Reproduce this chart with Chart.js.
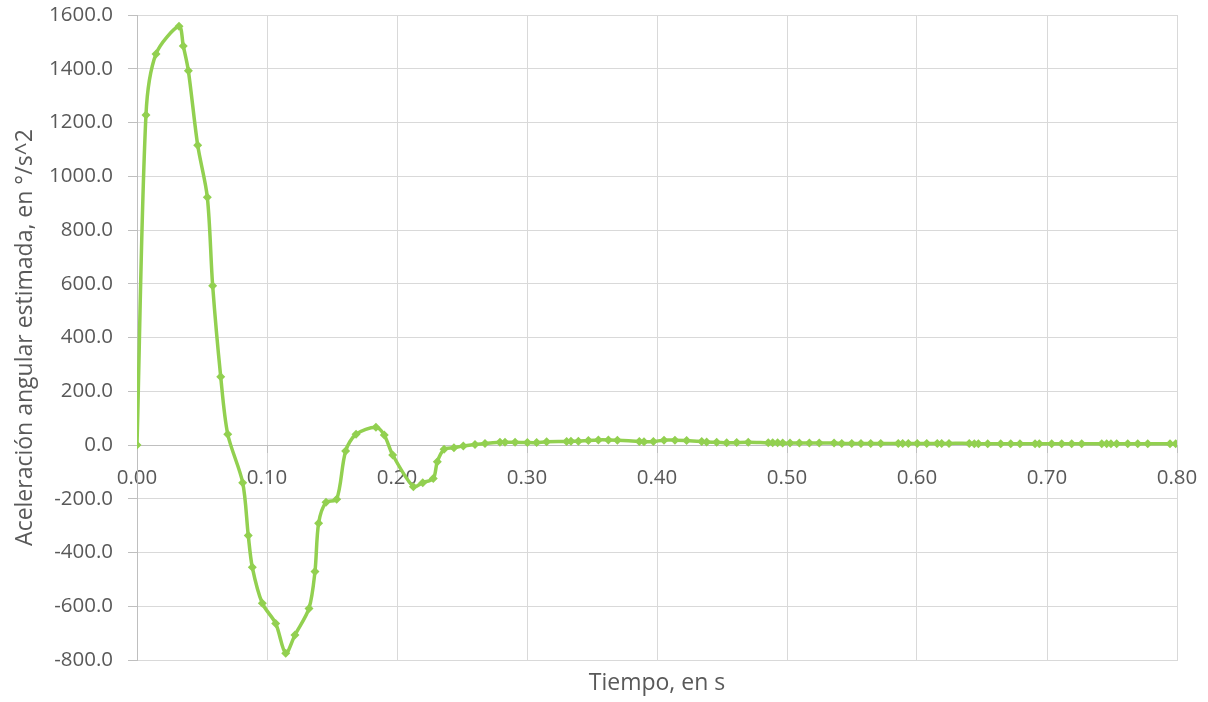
<!DOCTYPE html>
<html>
<head>
<meta charset="utf-8">
<script src="https://cdn.jsdelivr.net/npm/chart.js@4/dist/chart.umd.min.js"></script>
<style>
html,body{margin:0;padding:0;background:#fff;}
#wrap{width:1208px;height:702px;}
</style>
</head>
<body>
<div id="wrap"><canvas id="c" width="1208" height="702"></canvas></div>
<script>
const timeS = [0.0000,0.0069,0.0146,0.0323,0.0356,0.0395,0.0467,0.0541,0.0582,0.0644,0.0698,0.0813,0.0856,0.0887,0.0964,0.1067,0.1144,0.1215,0.1323,0.1369,0.1397,0.1454,0.1536,0.1605,0.1685,0.1838,0.1902,0.1967,0.2126,0.2198,0.2279,0.2310,0.2362,0.2438,0.2510,0.2600,0.2677,0.2792,0.2831,0.2908,0.3003,0.3074,0.3151,0.3305,0.3338,0.3395,0.3472,0.3549,0.3626,0.3695,0.3864,0.3900,0.3972,0.4054,0.4138,0.4228,0.4344,0.4382,0.4459,0.4536,0.4613,0.4702,0.4856,0.4890,0.4928,0.4967,0.5023,0.5095,0.5172,0.5248,0.5362,0.5421,0.5498,0.5569,0.5644,0.5721,0.5856,0.5890,0.5933,0.6002,0.6075,0.6156,0.6190,0.6246,0.6402,0.6441,0.6472,0.6544,0.6644,0.6721,0.6792,0.6908,0.6941,0.7036,0.7113,0.7190,0.7267,0.7421,0.7459,0.7492,0.7536,0.7621,0.7698,0.7775,0.7946,0.7990];
const accel = [0,1228,1455,1558,1485,1393,1115,922,593,254,40,-140,-337,-455,-589,-664,-775,-707,-608,-471,-291,-213,-202,-22,40,66,37,-37,-155,-140,-125,-62,-16,-10,-4,2,6,10,10,10,9,9,12,13,14,14,17,19,19,18,13,12,13,18,18,17,13,11,10,8,9,10,8,8,8,7,7,7,7,7,7,6,6,6,6,6,6,6,6,6,6,6,6,6,6,5,5,5,5,5,5,5,5,5,5,5,5,5,5,5,5,5,5,5,5,5];
const xTicks = [0.00,0.10,0.20,0.30,0.40,0.50,0.60,0.70,0.80];
const yTicks = [-800,-600,-400,-200,0,200,400,600,800,1000,1200,1400,1600];
const xTitle = 'Tiempo, en s';
const yTitle = 'Aceleración angular estimada, en °/s^2';

const FONT = "'Open Sans', 'Liberation Sans', sans-serif";
const TXT = '#595959';
const GRID = '#d9d9d9';
const AXIS = '#bfbfbf';
const points = timeS.map((t,i)=>({x:t,y:accel[i]}));

new Chart(document.getElementById('c'), {
  type: 'scatter',
  data: { datasets: [{
    data: points,
    showLine: true,
    borderColor: '#92D050',
    backgroundColor: '#92D050',
    borderWidth: 3.5,
    tension: 0.3,
    pointStyle: 'rectRot',
    pointRadius: 4.5,
    pointHoverRadius: 4.5,
    pointBorderWidth: 0,
    xAxisID: 'x',
    yAxisID: 'y'
  }]},
  options: {
    responsive: false,
    animation: false,
    layout: { padding: { top: 15, right: 31, left: 0, bottom: 0 } },
    plugins: { legend: { display: false }, tooltip: { enabled: false } },
    scales: {
      x: {
        type: 'linear', position: 'bottom', min: 0, max: 0.8,
        afterBuildTicks: s => { s.ticks = xTicks.map(v=>({value:v})); },
        ticks: { display: false },
        grid: { color: GRID, lineWidth: 1, drawTicks: false },
        border: { color: GRID },
        title: { display: true, text: xTitle, color: TXT, font: { family: FONT, size: 23 }, padding: { top: 4, bottom: 5 } },
        afterFit: s => { s.height = 42; s.paddingLeft = 0; s.paddingRight = 0; }
      },
      x2: {
        type: 'linear', axis: 'x', position: { y: 0 }, min: 0, max: 0.8,
        afterBuildTicks: s => { s.ticks = xTicks.map(v=>({value:v})); },
        ticks: { color: TXT, font: { family: FONT, size: 20.5 }, padding: 14, maxRotation: 0, autoSkip: false, callback: v => Number(v).toFixed(2) },
        grid: { display: true, drawOnChartArea: false, drawTicks: true, tickLength: 7, color: AXIS, tickColor: AXIS },
        border: { color: AXIS, width: 1 },
        afterFit: s => { s.paddingLeft = 0; s.paddingRight = 0; }
      },
      y: {
        type: 'linear', position: 'left', min: -800, max: 1600,
        afterBuildTicks: s => { s.ticks = yTicks.map(v=>({value:v})); },
        ticks: { color: TXT, font: { family: FONT, size: 20.5 }, padding: 15, callback: v => Number(v).toFixed(1) },
        grid: { color: GRID, lineWidth: 1, drawTicks: true, tickLength: 9, tickColor: AXIS },
        border: { color: AXIS },
        title: { display: true, text: yTitle, color: TXT, font: { family: FONT, size: 23 }, padding: { top: 12, bottom: 4 } },
        afterFit: s => { s.width = 137; s.paddingTop = 0; s.paddingBottom = 0; }
      }
    }
  }
});
</script>
</body>
</html>
